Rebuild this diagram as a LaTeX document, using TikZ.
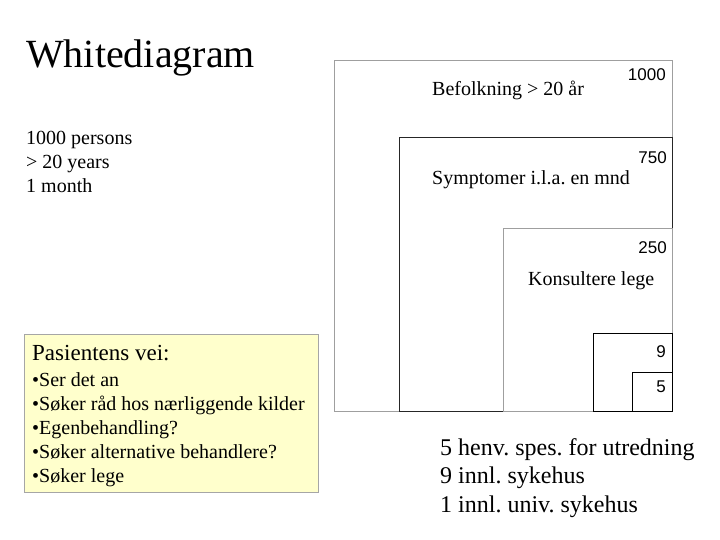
\documentclass[tikz,border=0pt]{standalone}
\usepackage{fontspec}
\setmainfont{Liberation Serif}
\newfontfamily\arialf{Liberation Sans}
\definecolor{boxyellow}{HTML}{FFFFCC}
\begin{document}
\frenchspacing
\begin{tikzpicture}[x=1pt,y=-1pt,
  txt/.style={inner sep=0pt,anchor=base west,font=\fontsize{20}{24}\selectfont},
  num/.style={inner sep=0pt,anchor=base east,font=\arialf\fontsize{17}{20}\selectfont},
  big/.style={inner sep=0pt,anchor=base west,font=\fontsize{24}{28}\selectfont},
  sq/.style={line width=1pt}]
\useasboundingbox (0,0) rectangle (720,540);
% nested rectangles
\draw[sq,gray!75] (334,61) rectangle (672,411);
\draw[sq,black!85] (399,138) rectangle (672,411);
\draw[sq,gray!75] (503,229) rectangle (672,411);
\draw[sq,black] (593,333) rectangle (672,411);
\draw[sq,black] (632,372) rectangle (672,411);
% numbers
\node[num] (n1000) at (666,81) {1000};
\node[num] (n750) at (667,164) {750};
\node[num] (n250) at (667,254) {250};
\node[num] (n9) at (666,357) {9};
\node[num] (n5) at (666,392) {5};
% labels
\node[txt] (befolk) at (432,96) {Befolkning > 20 år};
\node[txt] (sympt) at (432,185) {Symptomer i.l.a. en mnd};
\node[txt] (kons) at (528,285) {Konsultere lege};
% title
\node[inner sep=0pt,anchor=base west,font=\fontsize{40}{46}\selectfont] (title) at (26,68) {Whitediagram};
\node[txt] (l1) at (26,145) {1000 persons};
\node[txt] (l2) at (26,169) {> 20 years};
\node[txt] (l3) at (26,193) {1 month};
% yellow box
\draw[fill=boxyellow,draw=gray!70,line width=0.8pt] (24,334) rectangle (318,492);
\node[inner sep=0pt,anchor=base west,font=\fontsize{23}{27}\selectfont] (pv) at (32,360) {Pasientens vei:};
\node[txt] (b1) at (32,386) {•Ser det an};
\node[txt] (b2) at (32,410) {•Søker råd hos nærliggende kilder};
\node[txt] (b3) at (32,434) {•Egenbehandling?};
\node[txt] (b4) at (32,458) {•Søker alternative behandlere?};
\node[txt] (b5) at (32,482) {•Søker lege};
% bottom text
\node[big] (r1) at (440,455) {5 henv. spes. for utredning};
\node[big] (r2) at (440,483) {9 innl. sykehus};
\node[big] (r3) at (440,512) {1 innl. univ. sykehus};
\end{tikzpicture}
\end{document}
